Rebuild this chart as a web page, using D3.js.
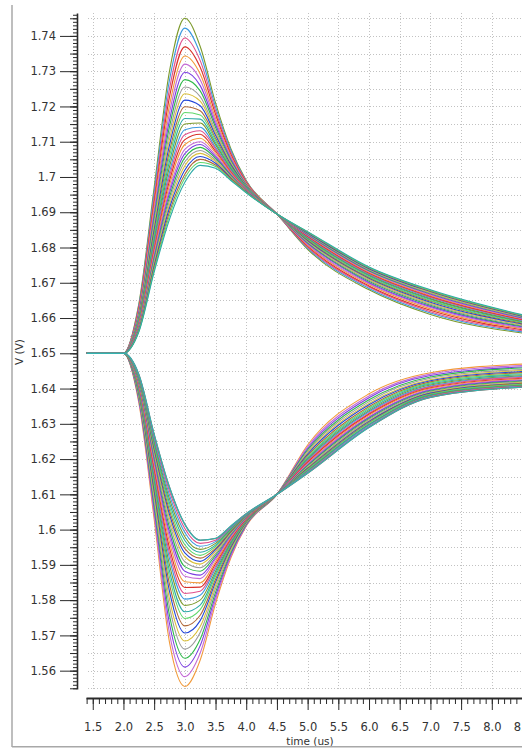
<!DOCTYPE html>
<html><head><meta charset="utf-8">
<script src="https://cdn.jsdelivr.net/npm/d3@7"></script>
<style>
html,body{margin:0;padding:0;background:#fff;}
svg{display:block;}
text{font-family:"DejaVu Sans",Verdana,sans-serif;fill:#333;}
</style></head>
<body>
<svg id="chart" width="522" height="749"></svg>
<script>
// ---------------- data ----------------
const times = [1.4, 2.0, 2.25, 2.5, 2.75, 3.0, 3.25, 3.5, 3.75, 4.0, 4.5, 5.0, 6.0, 7.0, 8.6]; // us
const baselineV = 1.65; // V, series below are offsets in mV
const upperMv = [
[0,0,14,47,80,95,87,71,58,49,39.5,29.5,18,11,5.5],
[0,0,13.5,45.6,77.5,92.2,85.0,69.9,57.5,48.8,39.5,29.8,18.4,11.4,5.8],
[0,0,13.0,44.1,75.0,89.4,83.0,68.8,56.9,48.6,39.5,30.1,18.8,11.8,6.1],
[0,0,12.6,42.8,72.7,86.9,81.1,67.8,56.4,48.4,39.5,30.4,19.1,12.2,6.4],
[0,0,12.2,41.5,70.3,84.3,79.2,66.7,55.9,48.2,39.5,30.7,19.5,12.6,6.7],
[0,0,11.8,40.3,68.2,82.0,77.6,65.8,55.5,48.0,39.5,30.9,19.8,13.0,6.9],
[0,0,11.4,39.1,66.1,79.7,75.9,64.9,55.0,47.8,39.5,31.2,20.1,13.3,7.2],
[0,0,11.0,38.0,64.3,77.6,74.4,64.1,54.6,47.7,39.5,31.4,20.4,13.6,7.4],
[0,0,10.6,36.9,62.4,75.5,72.8,63.2,54.2,47.5,39.5,31.6,20.7,13.9,7.6],
[0,0,10.3,36.0,60.7,73.6,71.5,62.5,53.9,47.4,39.5,31.8,21.0,14.2,7.8],
[0,0,10.0,35.0,59.0,71.8,70.2,61.8,53.5,47.3,39.5,32.0,21.3,14.5,8.0],
[0,0,9.7,34.0,57.3,69.9,68.8,61.0,53.1,47.1,39.5,32.2,21.5,14.8,8.2],
[0,0,9.4,33.2,55.9,68.3,67.6,60.4,52.8,47.0,39.5,32.4,21.7,15.0,8.4],
[0,0,9.1,32.4,54.4,66.6,66.4,59.7,52.5,46.9,39.5,32.6,22.0,15.3,8.6],
[0,0,8.8,31.5,52.9,65.0,65.3,59.1,52.2,46.7,39.5,32.7,22.2,15.5,8.7],
[0,0,8.6,30.7,51.4,63.4,64.1,58.4,51.9,46.6,39.5,32.9,22.4,15.8,8.9],
[0,0,8.3,30.0,50.2,62.0,63.1,57.9,51.6,46.5,39.5,33.1,22.6,16.0,9.1],
[0,0,8.1,29.2,48.9,60.6,62.1,57.3,51.3,46.4,39.5,33.2,22.8,16.2,9.2],
[0,0,7.8,28.5,47.7,59.2,61.0,56.8,51.1,46.3,39.5,33.4,23.0,16.4,9.4],
[0,0,7.6,27.8,46.4,57.8,60.0,56.2,50.8,46.2,39.5,33.5,23.2,16.6,9.5],
[0,0,7.4,27.2,45.4,56.6,59.2,55.7,50.6,46.1,39.5,33.6,23.4,16.8,9.6],
[0,0,7.2,26.6,44.3,55.5,58.4,55.3,50.4,46.0,39.5,33.8,23.5,17.0,9.8],
[0,0,7.0,26.0,43.3,54.3,57.5,54.8,50.1,45.9,39.5,33.9,23.7,17.1,9.9],
[0,0,6.8,25.4,42.2,53.2,56.7,54.4,49.9,45.9,39.5,34.0,23.9,17.3,10.0],
[0,0,6.6,24.8,41.2,52.0,55.8,53.9,49.7,45.8,39.5,34.1,24.0,17.5,10.1],
[0,0,6.4,24.2,40.1,50.8,55.0,53.4,49.5,45.7,39.5,34.3,24.2,17.7,10.3],
[0,0,6.2,23.6,39.1,49.7,54.1,53.0,49.2,45.6,39.5,34.4,24.3,17.8,10.4],
[0,0,6.0,23.0,38.0,48.5,53.3,52.5,49.0,45.5,39.5,34.5,24.5,18.0,10.5]
];
const lowerMv = [
[0,0,-14,-47,-82,-94.5,-87,-71,-58,-49,-40,-26,-11.5,-5.5,-3],
[0,0,-13.5,-45.6,-79.4,-91.7,-85.0,-69.9,-57.5,-48.8,-40,-26.5,-12.1,-5.9,-3.4],
[0,0,-13.0,-44.1,-76.7,-89.0,-82.9,-68.8,-56.9,-48.6,-40,-27.0,-12.6,-6.3,-3.8],
[0,0,-12.6,-42.8,-74.3,-86.5,-81.1,-67.8,-56.4,-48.4,-40,-27.4,-13.2,-6.7,-4.1],
[0,0,-12.2,-41.5,-71.9,-83.9,-79.2,-66.7,-55.9,-48.2,-40,-27.8,-13.7,-7.1,-4.5],
[0,0,-11.8,-40.3,-69.7,-81.6,-77.5,-65.8,-55.5,-48.0,-40,-28.2,-14.2,-7.5,-4.8],
[0,0,-11.4,-39.1,-67.5,-79.3,-75.8,-64.9,-55.0,-47.8,-40,-28.6,-14.6,-7.8,-5.1],
[0,0,-11.0,-38.0,-65.5,-77.3,-74.3,-64.1,-54.6,-47.7,-40,-29.0,-15.1,-8.1,-5.4],
[0,0,-10.6,-36.9,-63.5,-75.2,-72.7,-63.2,-54.2,-47.5,-40,-29.4,-15.5,-8.4,-5.7],
[0,0,-10.3,-36.0,-61.8,-73.3,-71.4,-62.5,-53.9,-47.4,-40,-29.7,-15.9,-8.7,-6.0],
[0,0,-10.0,-35.0,-60.0,-71.5,-70.0,-61.8,-53.5,-47.3,-40,-30.0,-16.3,-9.0,-6.3],
[0,0,-9.7,-34.0,-58.2,-69.7,-68.6,-61.0,-53.1,-47.1,-40,-30.3,-16.6,-9.3,-6.5],
[0,0,-9.4,-33.2,-56.7,-68.1,-67.5,-60.4,-52.8,-47.0,-40,-30.6,-17.0,-9.5,-6.7],
[0,0,-9.1,-32.4,-55.2,-66.4,-66.3,-59.7,-52.5,-46.9,-40,-30.9,-17.3,-9.8,-7.0],
[0,0,-8.8,-31.5,-53.6,-64.8,-65.1,-59.1,-52.2,-46.7,-40,-31.2,-17.6,-10.0,-7.2],
[0,0,-8.6,-30.7,-52.1,-63.2,-63.9,-58.4,-51.9,-46.6,-40,-31.4,-18.0,-10.3,-7.4],
[0,0,-8.3,-30.0,-50.8,-61.8,-62.9,-57.9,-51.6,-46.5,-40,-31.7,-18.2,-10.5,-7.6],
[0,0,-8.1,-29.2,-49.4,-60.5,-61.8,-57.3,-51.3,-46.4,-40,-31.9,-18.5,-10.7,-7.8],
[0,0,-7.8,-28.5,-48.1,-59.1,-60.8,-56.8,-51.1,-46.3,-40,-32.2,-18.8,-10.9,-8.0],
[0,0,-7.6,-27.8,-46.8,-57.7,-59.8,-56.2,-50.8,-46.2,-40,-32.4,-19.1,-11.1,-8.2],
[0,0,-7.4,-27.2,-45.7,-56.6,-59.0,-55.7,-50.6,-46.1,-40,-32.6,-19.3,-11.3,-8.4],
[0,0,-7.2,-26.6,-44.6,-55.4,-58.1,-55.3,-50.4,-46.0,-40,-32.8,-19.6,-11.5,-8.5],
[0,0,-7.0,-26.0,-43.5,-54.3,-57.3,-54.8,-50.1,-45.9,-40,-33.0,-19.8,-11.6,-8.7],
[0,0,-6.8,-25.4,-42.4,-53.1,-56.4,-54.4,-49.9,-45.9,-40,-33.2,-20.1,-11.8,-8.9],
[0,0,-6.6,-24.8,-41.3,-52.0,-55.6,-53.9,-49.7,-45.8,-40,-33.4,-20.3,-12.0,-9.0],
[0,0,-6.4,-24.2,-40.2,-50.8,-54.7,-53.4,-49.5,-45.7,-40,-33.6,-20.5,-12.2,-9.2],
[0,0,-6.2,-23.6,-39.1,-49.7,-53.9,-53.0,-49.2,-45.6,-40,-33.8,-20.8,-12.3,-9.3],
[0,0,-6.0,-23.0,-38.0,-48.5,-53.0,-52.5,-49.0,-45.5,-40,-34.0,-21.0,-12.5,-9.5]
];
const palette = ["#7c9a2c","#3d9be0","#e0508c","#d8322a","#f29a3a","#c46ad6","#7a3ee0",
                 "#2fb84a","#9c9c9c","#d9bf3a","#2346d8","#b0683a","#5fd86a","#2eaaa8"];
const flatColor = "#33b3b0";
const yTickValues = [1.56,1.57,1.58,1.59,1.6,1.61,1.62,1.63,1.64,1.65,1.66,1.67,1.68,1.69,1.7,1.71,1.72,1.73,1.74];
const yTickLabels = ["1.56","1.57","1.58","1.59","1.6","1.61","1.62","1.63","1.64","1.65","1.66","1.67","1.68","1.69","1.7","1.71","1.72","1.73","1.74"];
const xTickValues = [1.5,2.0,2.5,3.0,3.5,4.0,4.5,5.0,5.5,6.0,6.5,7.0,7.5,8.0,8.5];
const xTickLabels = ["1.5","2.0","2.5","3.0","3.5","4.0","4.5","5.0","5.5","6.0","6.5","7.0","7.5","8.0","8.5"];
const xLabel = "time (us)";
const yLabel = "V (V)";

// ---------------- layout ----------------
const svg = d3.select("#chart");
const plot = {left: 86, right: 522, top: 13, bottom: 689};
const x = d3.scaleLinear().domain([1.39, 8.5]).range([plot.left, 522.5]);
const y = d3.scaleLinear().domain([1.5548, 1.7465]).range([plot.bottom, plot.top]);

svg.append("rect").attr("width",522).attr("height",749).attr("fill","#fff");

// grid
const gridColor = "#c2c2c2";
const hGrid = d3.range(1.555, 1.7451, 0.005);
svg.append("g").selectAll("line").data(hGrid).join("line")
  .attr("x1", 88).attr("x2", 522)
  .attr("y1", d => Math.round(y(d)) + 0.5).attr("y2", d => Math.round(y(d)) + 0.5)
  .attr("stroke", gridColor).attr("stroke-width", 1).attr("stroke-dasharray", "1,2");
svg.append("g").selectAll("line").data(xTickValues).join("line")
  .attr("x1", d => Math.round(x(d)) + 0.5).attr("x2", d => Math.round(x(d)) + 0.5)
  .attr("y1", plot.top).attr("y2", plot.bottom)
  .attr("stroke", gridColor).attr("stroke-width", 1).attr("stroke-dasharray", "1,2");

// curves
svg.append("clipPath").attr("id","clip").append("rect")
  .attr("x", plot.left).attr("y", plot.top).attr("width", plot.right - plot.left).attr("height", plot.bottom - plot.top);
const line = d3.line()
  .x((d, i) => x(times[i]))
  .y(d => y(baselineV + d / 1000))
  .curve(d3.curveMonotoneX);
const curves = svg.append("g").attr("clip-path","url(#clip)");
curves.selectAll("path.up").data(upperMv).join("path").attr("class","up")
  .attr("d", line).attr("fill","none")
  .attr("stroke", (d,i) => palette[i % palette.length]).attr("stroke-width", 1.1);
curves.selectAll("path.lo").data(lowerMv).join("path").attr("class","lo")
  .attr("d", line).attr("fill","none")
  .attr("stroke", (d,i) => palette[(i + 4) % palette.length]).attr("stroke-width", 1.1);
// last drawn curve (teal) shows on the common flat start
curves.append("path").datum(lowerMv[lowerMv.length-1]).attr("d", line).attr("fill","none")
  .attr("stroke", flatColor).attr("stroke-width", 1.4);

// y axis
const axisX = 77;
const gy = svg.append("g").attr("transform", `translate(${axisX},0)`);
gy.call(d3.axisLeft(y).tickValues(d3.range(1.555, 1.7466, 0.001)).tickSize(4).tickSizeOuter(0).tickFormat(""));
gy.append("g").call(d3.axisLeft(y).tickValues(d3.range(1.555, 1.7451, 0.005)).tickSize(7).tickSizeOuter(0).tickFormat(""))
  .select(".domain").remove();
gy.append("g").call(d3.axisLeft(y).tickValues(yTickValues).tickSize(17).tickPadding(4)
    .tickFormat((d,i) => yTickLabels[i]))
  .select(".domain").remove();
gy.selectAll("line").attr("stroke","#2a2a2a");
gy.selectAll(".domain").attr("stroke","#2a2a2a").attr("stroke-width",1.6);
gy.selectAll("text").attr("font-size","11.5px").attr("fill","#333").style("font-family","DejaVu Sans");

// x axis
const axisY = 698;
const gx = svg.append("g").attr("transform", `translate(0,${axisY})`);
gx.call(d3.axisBottom(x).tickValues(d3.range(1.4, 8.55, 0.1)).tickSize(6).tickSizeOuter(0).tickFormat(""));
gx.append("g").call(d3.axisBottom(x).tickValues(xTickValues).tickSize(12).tickPadding(13)
    .tickFormat((d,i) => xTickLabels[i]))
  .select(".domain").remove();
gx.selectAll("line").attr("stroke","#2a2a2a");
gx.selectAll(".domain").attr("stroke","#2a2a2a").attr("stroke-width",2);
gx.selectAll("text").attr("font-size","11.5px").attr("fill","#333").style("font-family","DejaVu Sans");

// axis titles
svg.append("text").attr("transform","translate(23,352) rotate(-90)")
  .attr("text-anchor","middle").attr("font-size","10.5px").text(yLabel);
svg.append("text").attr("x", 310).attr("y", 745).attr("text-anchor","middle")
  .attr("font-size","10.5px").text(xLabel);

// frame
svg.append("line").attr("x1",12).attr("x2",12).attr("y1",5).attr("y2",747)
  .attr("stroke","#a8a8a8").attr("stroke-width",1.5);
svg.append("line").attr("x1",12).attr("x2",522).attr("y1",746.8).attr("y2",746.8)
  .attr("stroke","#a8a8a8").attr("stroke-width",1.5);
</script>
</body></html>
